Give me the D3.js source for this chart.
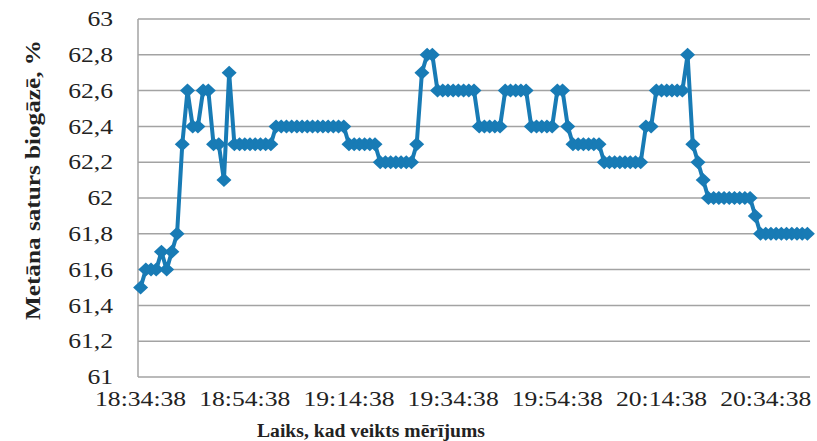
<!DOCTYPE html>
<html><head><meta charset="utf-8">
<script src="https://cdn.jsdelivr.net/npm/d3@7"></script>
<style>html,body{margin:0;padding:0;background:#fff;}svg{display:block;}</style>
</head><body>
<div id="chart"></div>
<script>
// Methane content values, one per minute starting at 18:34:38
const values = [
  61.5, 61.6, 61.6, 61.6, 61.7, 61.6, 61.7, 61.8, 62.3, 62.6,
  62.4, 62.4, 62.6, 62.6, 62.3, 62.3, 62.1, 62.7, 62.3, 62.3,
  62.3, 62.3, 62.3, 62.3, 62.3, 62.3, 62.4, 62.4, 62.4, 62.4,
  62.4, 62.4, 62.4, 62.4, 62.4, 62.4, 62.4, 62.4, 62.4, 62.4,
  62.3, 62.3, 62.3, 62.3, 62.3, 62.3, 62.2, 62.2, 62.2, 62.2,
  62.2, 62.2, 62.2, 62.3, 62.7, 62.8, 62.8, 62.6, 62.6, 62.6,
  62.6, 62.6, 62.6, 62.6, 62.6, 62.4, 62.4, 62.4, 62.4, 62.4,
  62.6, 62.6, 62.6, 62.6, 62.6, 62.4, 62.4, 62.4, 62.4, 62.4,
  62.6, 62.6, 62.4, 62.3, 62.3, 62.3, 62.3, 62.3, 62.3, 62.2,
  62.2, 62.2, 62.2, 62.2, 62.2, 62.2, 62.2, 62.4, 62.4, 62.6,
  62.6, 62.6, 62.6, 62.6, 62.6, 62.8, 62.3, 62.2, 62.1, 62.0,
  62.0, 62.0, 62.0, 62.0, 62.0, 62.0, 62.0, 62.0, 61.9, 61.8,
  61.8, 61.8, 61.8, 61.8, 61.8, 61.8, 61.8, 61.8, 61.8
];
const startTime = "18:34:38";
const yTicks = [61, 61.2, 61.4, 61.6, 61.8, 62, 62.2, 62.4, 62.6, 62.8, 63];
const labelEvery = 20;
const yTitle = "Metāna saturs biogāzē, %";
const xTitle = "Laiks, kad veikts mērījums";

function timeLabel(i) {
  const [h, mi, s] = startTime.split(":").map(Number);
  const t = h * 3600 + mi * 60 + s + i * 60;
  const hh = Math.floor(t / 3600), mm = Math.floor((t % 3600) / 60), ss = t % 60;
  return hh + ":" + String(mm).padStart(2, "0") + ":" + String(ss).padStart(2, "0");
}
const categories = values.map((v, i) => timeLabel(i));

const W = 817, H = 441;
const m = {left: 138, right: 7, top: 19, bottom: 64};
const FONT = "'Liberation Serif', 'Times New Roman', serif";
const svg = d3.select("#chart").append("svg").attr("width", W).attr("height", H);

const x = d3.scaleBand().domain(categories).range([m.left, W - m.right]).paddingInner(0).paddingOuter(0);
const y = d3.scaleLinear().domain([61, 63]).range([H - m.bottom, m.top]);
const cx = c => x(c) + x.bandwidth() / 2;

function stretch(sel, k) {
  sel.each(function() {
    const len = this.getComputedTextLength();
    d3.select(this).attr("textLength", len * k).attr("lengthAdjust", "spacingAndGlyphs");
  });
}

// gridlines
svg.append("g").selectAll("line").data(yTicks.filter(t => t > 61)).join("line")
  .attr("x1", m.left).attr("x2", W - m.right)
  .attr("y1", d => y(d)).attr("y2", d => y(d))
  .attr("stroke", "#a3a3a3").attr("stroke-width", 1.5);

// axes lines
svg.append("line").attr("x1", m.left).attr("x2", m.left).attr("y1", m.top).attr("y2", y(61))
  .attr("stroke", "#a3a3a3").attr("stroke-width", 1.5);
svg.append("line").attr("x1", m.left).attr("x2", W - m.right).attr("y1", y(61)).attr("y2", y(61))
  .attr("stroke", "#a3a3a3").attr("stroke-width", 1.5);

// y axis labels
const yAxis = d3.axisLeft(y).tickValues(yTicks).tickSize(0).tickPadding(25)
  .tickFormat(d => String(+d.toFixed(1)).replace(".", ","));
const gy = svg.append("g").attr("transform", `translate(${m.left},0)`).call(yAxis);
gy.select(".domain").remove();
gy.selectAll("text").attr("font-family", FONT).attr("font-size", 21).attr("fill", "#222");
stretch(gy.selectAll("text"), 1.22);

// x axis labels
const xAxis = d3.axisBottom(x).tickValues(categories.filter((c, i) => i % labelEvery === 0)).tickSize(0).tickPadding(14);
const gx = svg.append("g").attr("transform", `translate(0,${y(61)})`).call(xAxis);
gx.select(".domain").remove();
gx.selectAll("text").attr("font-family", FONT).attr("font-size", 21).attr("fill", "#222");
stretch(gx.selectAll("text"), 1.22);

// line
const color = "#187bb5";
const line = d3.line().x((d, i) => cx(categories[i])).y(d => y(d));
svg.append("path").datum(values).attr("d", line)
  .attr("fill", "none").attr("stroke", color).attr("stroke-width", 4).attr("stroke-linejoin", "round");

// diamond markers
const hw = 7.5, hh = 7;
const diamondPath = `M0,${-hh}L${hw},0L0,${hh}L${-hw},0Z`;
svg.append("g").selectAll("path").data(values).join("path")
  .attr("d", diamondPath)
  .attr("transform", (d, i) => `translate(${cx(categories[i])},${y(d)})`)
  .attr("fill", color);

// titles
svg.append("text").attr("transform", `translate(40,180) rotate(-90)`)
  .attr("text-anchor", "middle").attr("font-family", FONT)
  .attr("font-weight", "bold").attr("font-size", 21).attr("fill", "#222")
  .attr("textLength", 280).attr("lengthAdjust", "spacingAndGlyphs").text(yTitle);
svg.append("text").attr("x", 371).attr("y", 437)
  .attr("text-anchor", "middle").attr("font-family", FONT)
  .attr("font-weight", "bold").attr("font-size", 18).attr("fill", "#222")
  .attr("textLength", 228).attr("lengthAdjust", "spacingAndGlyphs").text(xTitle);
</script>
</body></html>
